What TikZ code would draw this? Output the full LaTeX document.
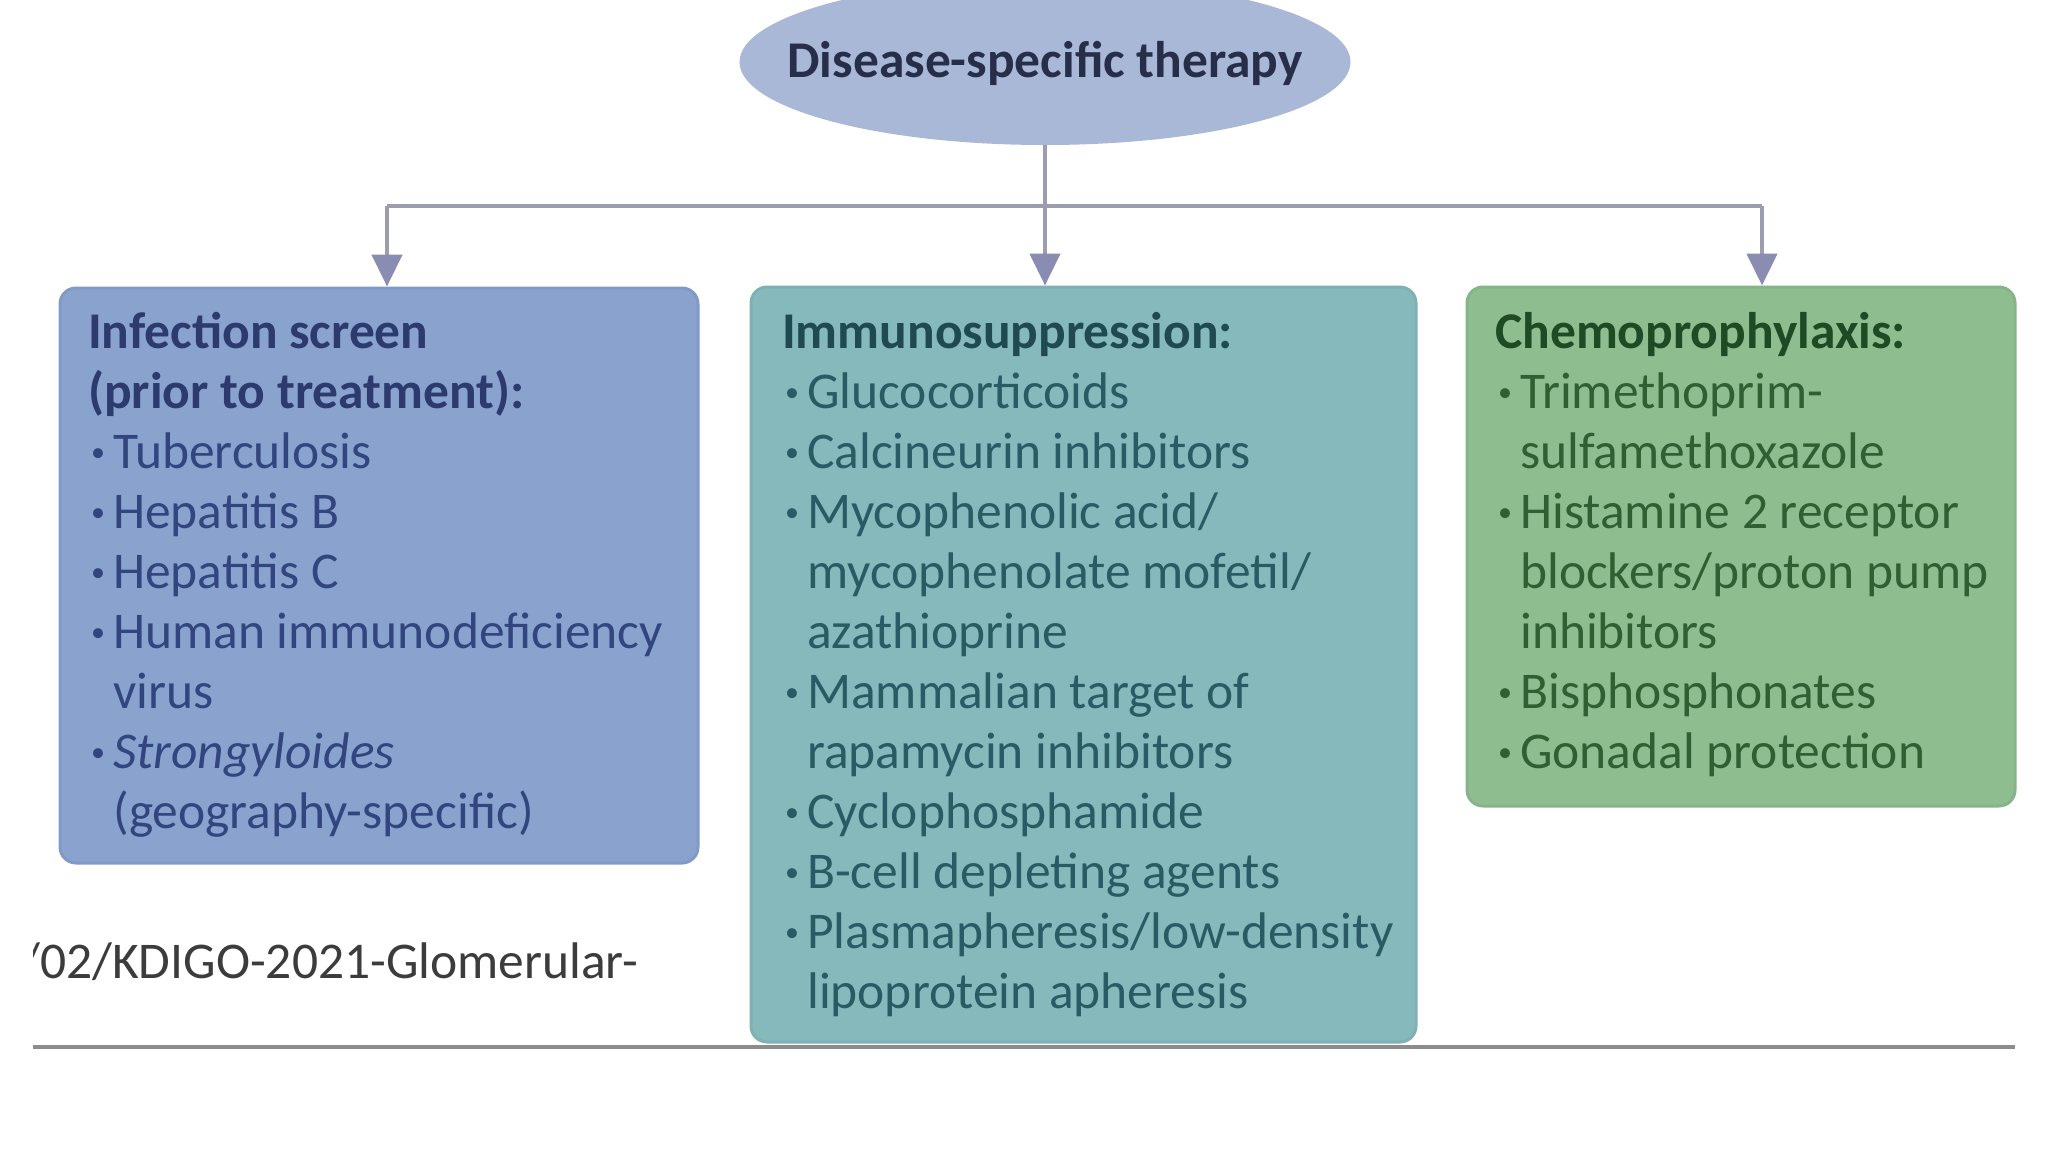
\documentclass[tikz,border=0pt]{standalone}
\usepackage{fontspec}
\setmainfont{Carlito}
\usetikzlibrary{shapes.geometric,arrows.meta}
\definecolor{ellfill}{HTML}{A9B8D6}
\definecolor{elltext}{HTML}{262E4A}
\definecolor{linec}{HTML}{9C9EB0}
\definecolor{arrowc}{HTML}{8A8CB2}
\definecolor{lfill}{HTML}{8AA3CE}
\definecolor{ldraw}{HTML}{8299C6}
\definecolor{lhead}{HTML}{2C3A6E}
\definecolor{lbody}{HTML}{32457E}
\definecolor{mfill}{HTML}{86B9BC}
\definecolor{mdraw}{HTML}{7EB0B4}
\definecolor{mhead}{HTML}{1F4A52}
\definecolor{mbody}{HTML}{2A5A64}
\definecolor{rfill}{HTML}{8EBE90}
\definecolor{rdraw}{HTML}{86B488}
\definecolor{rhead}{HTML}{1E4A24}
\definecolor{rbody}{HTML}{2F5F33}
\definecolor{foottext}{HTML}{3C3C3C}
\definecolor{footline}{HTML}{8C8C8C}
\newcommand{\mybullet}{\makebox[25pt][l]{\hspace*{3pt}\raisebox{7pt}{\fontsize{28}{28}\selectfont\textbullet}}}
\newcommand{\myitem}[1]{\mybullet#1}
\newcommand{\mycont}[1]{\hspace*{25pt}#1}
\begin{document}
\begin{tikzpicture}[x=1pt,y=-1pt,
  bigfont/.style={font=\fontsize{51.5}{60}\selectfont},
  panel/.style={rectangle,rounded corners=16pt,line width=3pt,inner sep=0pt},
  paneltext/.style={bigfont,anchor=north west,inner sep=0pt,align=left},
  conn/.style={draw=linec,line width=4.5pt},
  connarrow/.style={conn,-{Triangle[width=30pt,length=32pt,color=arrowc]}}
]
\useasboundingbox (0,0) rectangle (2048,1152);
\clip (0,0) rectangle (2048,1152);
\fill[white] (0,0) rectangle (2048,1152);

% top ellipse
\node[ellipse,fill=ellfill,minimum width=611pt,minimum height=166pt,inner sep=0pt] (top) at (1045,62) {};
\node[bigfont,inner sep=0pt,text=elltext] (toptext) at (1045,63) {\bfseries Disease-specific therapy};

% panels
\node[panel,fill=lfill,draw=ldraw,minimum width=638pt,minimum height=575pt] (L) at (379,575.5) {};
\node[panel,fill=mfill,draw=mdraw,minimum width=665pt,minimum height=755pt] (M) at (1083.5,664.5) {};
\node[panel,fill=rfill,draw=rdraw,minimum width=548pt,minimum height=519pt] (R) at (1741,546.5) {};

% connectors
\coordinate (barL) at (387,206);
\coordinate (barR) at (1762,206);
\draw[conn] (barL) -- (barR);
\draw[connarrow] (top.south) -- (top.south |- M.north);
\draw[connarrow] (barL) -- (barL |- L.north);
\draw[connarrow] (barR) -- (barR |- R.north);

% panel texts
\node[paneltext,text=lbody] (Ltext) at (88,306) {%
\strut{\color{lhead}\bfseries Infection screen}\\
{\color{lhead}\bfseries (prior to treatment):}\\
\myitem{Tuberculosis}\\
\myitem{Hepatitis B}\\
\myitem{Hepatitis C}\\
\myitem{Human immunodeficiency}\\
\mycont{virus}\\
\myitem{\itshape Strongyloides}\\
\mycont{(geography-specific)}};

\node[paneltext,text=mbody] (Mtext) at (782,306) {%
\strut{\color{mhead}\bfseries Immunosuppression:}\\
\myitem{Glucocorticoids}\\
\myitem{Calcineurin inhibitors}\\
\myitem{Mycophenolic acid/}\\
\mycont{mycophenolate mofetil/}\\
\mycont{azathioprine}\\
\myitem{Mammalian target of}\\
\mycont{rapamycin inhibitors}\\
\myitem{Cyclophosphamide}\\
\myitem{B-cell depleting agents}\\
\myitem{Plasmapheresis/low-density}\\
\mycont{lipoprotein apheresis}};

\node[paneltext,text=rbody] (Rtext) at (1495,306) {%
\strut{\color{rhead}\bfseries Chemoprophylaxis:}\\
\myitem{Trimethoprim-}\\
\mycont{sulfamethoxazole}\\
\myitem{Histamine 2 receptor}\\
\mycont{blockers/proton pump}\\
\mycont{inhibitors}\\
\myitem{Bisphosphonates}\\
\myitem{Gonadal protection}};

% footer
\begin{scope}
\clip (33,900) rectangle (720,1030);
\node[bigfont,anchor=west,inner sep=0pt,text=foottext] (foot) at (20,962) {/02/KDIGO-2021-Glomerular-};
\end{scope}
\coordinate (lineA) at (33,1047);
\coordinate (lineB) at (2015,1047);
\draw[draw=footline,line width=4pt] (lineA) -- (lineB);
\end{tikzpicture}
\end{document}
